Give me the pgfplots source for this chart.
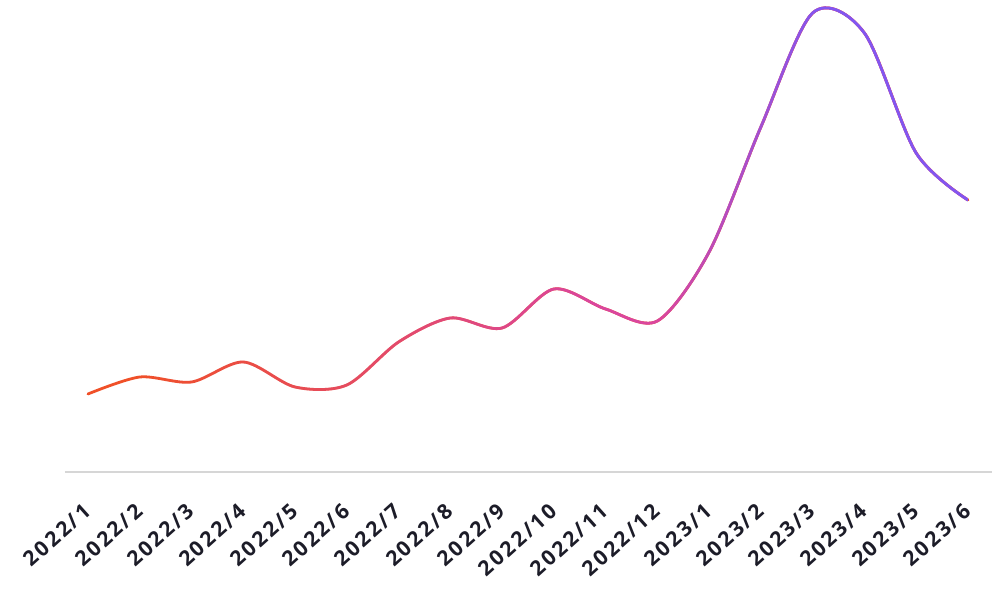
\documentclass[border=0pt]{standalone}
\usepackage{pgfplots}
\usepackage{pgfplotstable}
\pgfplotsset{compat=1.18}
\usepackage{fontspec}
\setmainfont{Open Sans}
\newfontfamily\labelfont[LetterSpace=12]{Open Sans}
\usetikzlibrary{fadings}
\definecolor{cOrange}{RGB}{240,80,40}
\definecolor{cPink}{RGB}{218,70,158}
\definecolor{cPurple}{RGB}{130,86,240}
\definecolor{axisgray}{RGB}{214,214,214}
\definecolor{labelcol}{RGB}{28,28,40}
\pgfdeclarehorizontalshading{pinkfadeshade}{100bp}{color(0bp)=(black); color(5bp)=(black); color(57bp)=(white); color(100bp)=(white)}
\pgfdeclarefading{pinkfade}{\pgfuseshading{pinkfadeshade}}
\pgfdeclarehorizontalshading{purplefadeshade}{100bp}{color(0bp)=(black); color(65bp)=(black); color(83bp)=(white); color(100bp)=(white)}
\pgfdeclarefading{purplefade}{\pgfuseshading{purplefadeshade}}
\pgfplotstableread{
x y
0 78
1 95
2 90
3 110
4 85
5 87
6 130
7 154
8 144
9 183
10 163
11 151
12 220
13 345
14 459
15 439
16 319
17 272
}\datatable
\tikzset{myfade/.style={fit fading=false, fading transform={shift={(463pt,236pt)}, xscale=8.77, yscale=5}}}
\begin{document}
\begin{tikzpicture}
\path[use as bounding box] (-65pt,-124pt) rectangle (927pt,472pt);
\begin{axis}[
  scale only axis, width=927pt, height=472pt,
  xmin=-0.444, xmax=17.464, ymin=0, ymax=472,
  axis x line=bottom, axis y line=none,
  x axis line style={axisgray, line width=1.3pt, -},
  xtick={0,...,17},
  xticklabels={2022/1,2022/2,2022/3,2022/4,2022/5,2022/6,2022/7,2022/8,2022/9,2022/10,2022/11,2022/12,2023/1,2023/2,2023/3,2023/4,2023/5,2023/6},
  major tick length=0pt,
  ytick=\empty,
  clip=false,
  xticklabel style={xshift=-6pt, rotate=42, anchor=north east, font=\labelfont\bfseries\fontsize{21}{21}\selectfont, text=labelcol, inner sep=0pt},
  xticklabel shift=30pt,
]
\addplot[cOrange, line width=2.8pt, smooth, line cap=round] table[x=x,y=y]{\datatable};
\addplot[cPink, line width=2.8pt, smooth, line cap=round, path fading=pinkfade, myfade] table[x=x,y=y]{\datatable};
\addplot[cPurple, line width=2.8pt, smooth, line cap=round, path fading=purplefade, myfade] table[x=x,y=y]{\datatable};
\end{axis}
\end{tikzpicture}
\end{document}
